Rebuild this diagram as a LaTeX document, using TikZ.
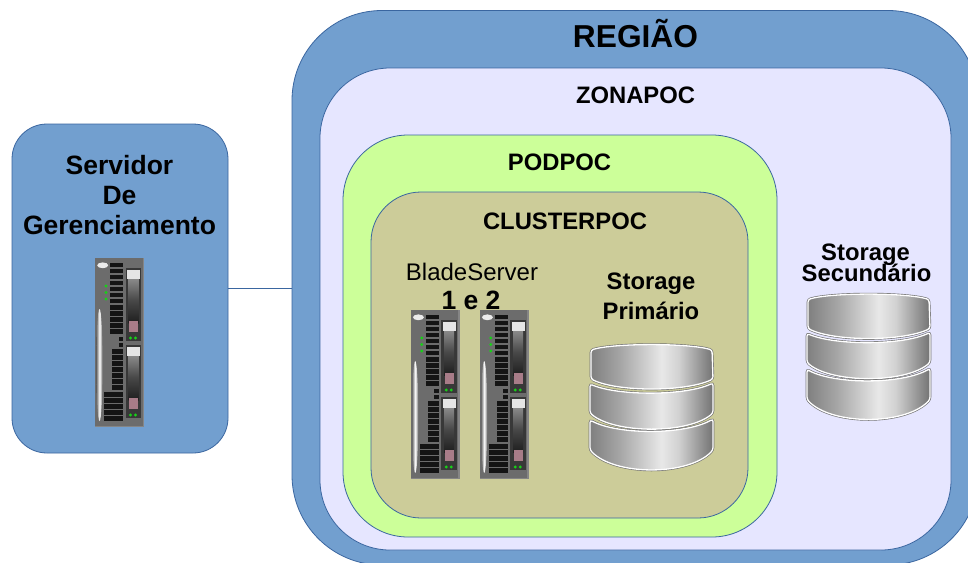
\documentclass[tikz,border=0pt]{standalone}
\usepackage{fontspec}
\setmainfont{Liberation Sans}
\usetikzlibrary{calc}
\definecolor{regblue}{HTML}{729FCF}
\definecolor{edgeblue}{HTML}{3A66A0}
\definecolor{zonefill}{HTML}{E6E6FF}
\definecolor{podfill}{HTML}{CCFF99}
\definecolor{clufill}{HTML}{CCCC99}
\definecolor{bladegray}{HTML}{6C6C6C}
\definecolor{ventblack}{HTML}{141414}
\definecolor{ledgreen}{HTML}{18D018}
\definecolor{pinkbay}{HTML}{A87C88}
\pgfdeclarehorizontalshading{diskshade}{100bp}{
  color(0bp)=(black!50);
  color(25bp)=(black!50);
  color(37bp)=(black!35);
  color(54bp)=(black!9);
  color(61bp)=(black!18);
  color(75bp)=(black!55);
  color(100bp)=(black!55)}
\pgfdeclarehorizontalshading{railshade}{100bp}{
  color(0bp)=(bladegray);
  color(25bp)=(bladegray);
  color(50bp)=(white);
  color(75bp)=(bladegray);
  color(100bp)=(bladegray)}
\pgfdeclareverticalshading{bayshade}{100bp}{
  color(0bp)=(black!88);
  color(25bp)=(black!88);
  color(50bp)=(black!72);
  color(75bp)=(black!45);
  color(100bp)=(black!45)}
\tikzset{
  zone/.style={draw=edgeblue,line width=0.8pt,rounded corners=#1,inner sep=0pt,outer sep=0pt},
  label/.style={anchor=base,inner sep=0pt,text=black},
  big/.style={label,font=\bfseries\fontsize{31.7}{34}\selectfont},
  head/.style={label,font=\bfseries\fontsize{23.8}{26}\selectfont},
  srv/.style={label,font=\bfseries\fontsize{26.5}{28}\selectfont},
  plainlbl/.style={label,font=\fontsize{24}{26}\selectfont},
  disk/.style={draw=white,line width=1.3pt,rounded corners=2.5pt,shading=diskshade},
  diskrim/.style={draw=black!55,line width=2.6pt,rounded corners=2.5pt},
  vent/.style={fill=ventblack,draw=none},
  led/.style={fill=ledgreen,draw=none},
  storagepic/.pic={
    \foreach \pth in {
      {(11,15) .. controls (35,8) and (108,8) .. (132,15) -- (133,44) .. controls (105,57) and (38,57) .. (11,44) -- cycle},
      {(10,49) .. controls (38,61) and (105,61) .. (133,48) -- (133,78) .. controls (108,99) and (35,99) .. (10,78) -- cycle},
      {(10,85) .. controls (38,100) and (105,100) .. (133,84) -- (133,115) .. controls (108,141) and (35,141) .. (10,115) -- cycle}}{
      \path[diskrim] \pth;
      \path[disk] \pth;
    }
  },
  bladepic/.pic={
    \fill[black!48] (0,0) rectangle (49,169);
    \fill[bladegray] (0,0) rectangle (47.5,167.5);
    \fill[white!92!black] (7.7,7.3) ellipse (5.5 and 2.9);
    \foreach \ly in {28,34.5,41} \fill[led] (11,\ly) circle (1.6);
    \foreach \i in {0,...,11} \fill[vent] (15,{4.5+6.08*\i}) rectangle (28,{9+6.08*\i});
    \fill[vent] (23.5,78.5) rectangle (28,82.5);
    \fill[vent] (23.5,85) rectangle (28,89);
    \foreach \i in {0,...,6} \fill[vent] (17,{91+6.08*\i}) rectangle (28,{95.5+6.08*\i});
    \foreach \i in {0,...,4} \fill[vent] (9,{134+6.08*\i}) rectangle (28,{138.5+6.08*\i});
    \shade[shading=railshade] (4.5,107) ellipse (3.2 and 56);
    \foreach \by in {0,77}{
      \fill[black!78] (30.5,{10+\by}) rectangle (46,{83+\by});
      \shade[shading=bayshade] (33.5,{20+\by}) rectangle (43.5,{65+\by});
      \fill[white!90!black] (32,{12+\by}) rectangle (45,{21+\by});
      \fill[pinkbay] (34,{63+\by}) rectangle (43,{74+\by});
      \fill[led] (35.5,{80+\by}) circle (1.6);
      \fill[led] (40.5,{80+\by}) circle (1.6);
    }
  }
}
\begin{document}
\begin{tikzpicture}[x=1pt,y=-1pt]
\useasboundingbox (0,0) rectangle (968,562);
\fill[white] (0,0) rectangle (968,562);
\begin{scope}
\clip (0,0) rectangle (968,562);
\node[zone=90pt,fill=regblue,minimum width=686pt,minimum height=554.5pt] (regiao) at (635,287.75) {};
\end{scope}
\node[zone=70pt,fill=zonefill,minimum width=631pt,minimum height=482pt] (zona) at (635.5,309) {};
\node[zone=65pt,fill=podfill,minimum width=434pt,minimum height=402pt] (pod) at (560,336) {};
\node[zone=50pt,fill=clufill,minimum width=377pt,minimum height=326pt] (cluster) at (559.5,355) {};
\node[zone=35pt,fill=regblue,minimum width=216pt,minimum height=329pt] (servidor) at (120,288.5) {};
\draw[edgeblue,line width=0.8pt] (servidor.east) -- (servidor.east -| regiao.west);

\node[big] (tregiao) at (635.5,47) {REGIÃO};
\node[head] (tzona) at (635.5,103) {ZONAPOC};
\node[head] (tpod) at (559.5,170) {PODPOC};
\node[head] (tcluster) at (565,229) {CLUSTERPOC};
\node[srv] (ts1) at (119.5,174.5) {Servidor};
\node[srv] (ts2) at (119.5,204) {De};
\node[srv] (ts3) at (119.5,234) {Gerenciamento};
\node[plainlbl] (tblade) at (472,280) {BladeServer};
\node[srv] (tnum) at (471,309) {1 e 2};
\node[head] (tst1) at (651,289) {Storage};
\node[head] (tpri) at (651,319) {Primário};
\node[head] (tst2) at (865.5,260) {Storage};
\node[head] (tsec) at (866.5,281) {Secundário};

\pic (bladeA) at (95,258) {bladepic};
\pic (bladeB) at (410.7,310) {bladepic};
\pic (bladeC) at (479.7,310) {bladepic};
\pic (diskA) at (580,335) {storagepic};
\pic (diskB) at (797,284.5) {storagepic};
\end{tikzpicture}
\end{document}
